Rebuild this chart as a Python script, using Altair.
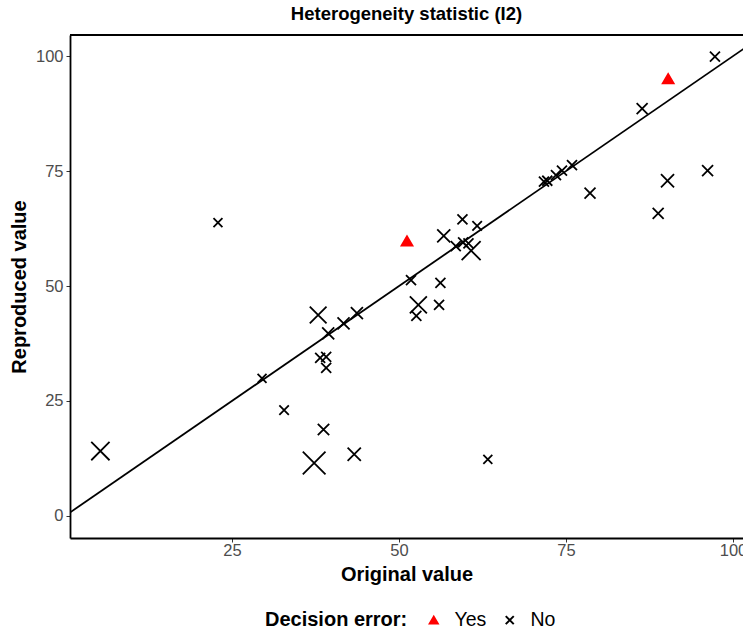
import altair as alt
import pandas as pd

# ---- data ----
# Decision error = "No" (cross markers)
orig_no = [22.9, 97.3, 86.4, 71.7, 72.2, 73.5, 74.4, 75.9, 78.6, 90.2,
           96.2, 88.8, 59.5, 61.7, 56.7, 58.5, 59.6, 60.4, 60.8, 51.8,
           56.2, 52.9, 52.6, 56.0, 63.3, 37.9, 39.4, 41.7, 43.7, 38.2,
           39.1, 39.1, 29.5, 32.8, 5.3, 38.7, 37.3, 43.3]
repr_no = [63.8, 99.9, 88.6, 72.7, 72.9, 74.1, 75.1, 76.3, 70.2, 72.9,
           75.1, 65.8, 64.5, 63.1, 60.9, 58.7, 59.5, 59.3, 57.7, 51.3,
           50.7, 45.9, 43.5, 45.9, 12.3, 43.7, 39.7, 41.9, 44.1, 34.4,
           34.6, 32.2, 29.9, 23.0, 14.1, 18.8, 11.5, 13.4]
weight_no = [16, 20, 24, 20, 20, 20, 20, 20, 24, 34,
             24, 24, 20, 18, 34, 20, 20, 20, 72, 20,
             20, 58, 20, 20, 16, 56, 29, 29, 29, 20,
             20, 20, 16, 18, 67, 26, 103, 35]

# Decision error = "Yes" (red triangles)
orig_yes = [51.2, 90.3]
repr_yes = [59.8, 95.1]
weight_yes = [24, 24]

error_levels = ["Yes", "No"]
identity_line = [-10, 110]
x_ticks = [25, 50, 75, 100]
y_ticks = [0, 25, 50, 75, 100]

df = pd.DataFrame({
    "original": orig_yes + orig_no,
    "reproduced": repr_yes + repr_no,
    "weight": weight_yes + weight_no,
    "error": ["Yes"] * len(orig_yes) + ["No"] * len(orig_no),
})
line_df = pd.DataFrame({"original": identity_line, "reproduced": identity_line})

FONT = "Liberation Sans"
XPATH = "M-1,-1L1,1M-1,1L1,-1"

x_scale = alt.Scale(domain=[0.75, 101.5], nice=False, zero=False)
y_scale = alt.Scale(domain=[-4.8, 104.6], nice=False, zero=False)

x_axis = alt.Axis(values=x_ticks, title="Original value", grid=False,
                  domainColor="black", domainWidth=1.8, tickColor="#333333",
                  tickSize=4, tickWidth=1, labelColor="#4D4D4D", labelFontSize=16.5,
                  labelFont=FONT, titleFont=FONT, titleFontSize=20,
                  titleFontWeight="bold", titleColor="black", titlePadding=6,
                  labelPadding=0)
y_axis = alt.Axis(values=y_ticks, title="Reproduced value", grid=False,
                  domainColor="black", domainWidth=1.8, tickColor="#333333",
                  tickSize=4, tickWidth=1, labelColor="#4D4D4D", labelFontSize=16.5,
                  labelFont=FONT, titleFont=FONT, titleFontSize=20,
                  titleFontWeight="bold", titleColor="black", titlePadding=6,
                  labelPadding=3)

leg = dict(orient="none", legendX=195, legendY=575, direction="horizontal",
           titleOrient="left", title="Decision error:")

points = alt.Chart(df).mark_point(filled=False, opacity=1, strokeWidth=1.8).encode(
    x=alt.X("original:Q", scale=x_scale, axis=x_axis),
    y=alt.Y("reproduced:Q", scale=y_scale, axis=y_axis),
    shape=alt.Shape("error:N", scale=alt.Scale(domain=error_levels, range=["triangle-up", XPATH]),
                    legend=alt.Legend(**leg)),
    fill=alt.Fill("error:N", scale=alt.Scale(domain=error_levels, range=["red", "transparent"]),
                  legend=alt.Legend(**leg)),
    stroke=alt.Stroke("error:N", scale=alt.Scale(domain=error_levels, range=["red", "black"]),
                      legend=alt.Legend(**leg)),
    size=alt.Size("weight:Q", scale=alt.Scale(domain=[0, 100], range=[0, 500]), legend=None),
)

line = alt.Chart(line_df).mark_line(color="black", strokeWidth=1.8, clip=True).encode(
    x=alt.X("original:Q", scale=x_scale, axis=x_axis),
    y=alt.Y("reproduced:Q", scale=y_scale, axis=y_axis),
)

top_border = alt.Chart(pd.DataFrame({"k": [0]})).mark_rule(color="black", strokeWidth=1.8).encode(
    y=alt.value(0)
)

chart = alt.layer(line, points, top_border).properties(
    width=673, height=503,
    padding={"left": 70, "top": 35, "right": 0, "bottom": 94},
    autosize=alt.AutoSizeParams(type="none"),
    title=alt.TitleParams("Heterogeneity statistic (I2)", font=FONT, fontSize=18.5,
                          fontWeight="bold", color="black", anchor="middle", offset=11),
    background="white",
).configure_view(stroke=None).configure_legend(
    titleFont=FONT, titleFontSize=20, titleFontWeight="bold", titleColor="black",
    labelFont=FONT, labelFontSize=19.5, labelColor="black", symbolSize=64,
    symbolStrokeWidth=2, titlePadding=16, columnPadding=13, labelOffset=11,
)

chart.save("out.html", embed_options={"renderer": "svg", "actions": False})
